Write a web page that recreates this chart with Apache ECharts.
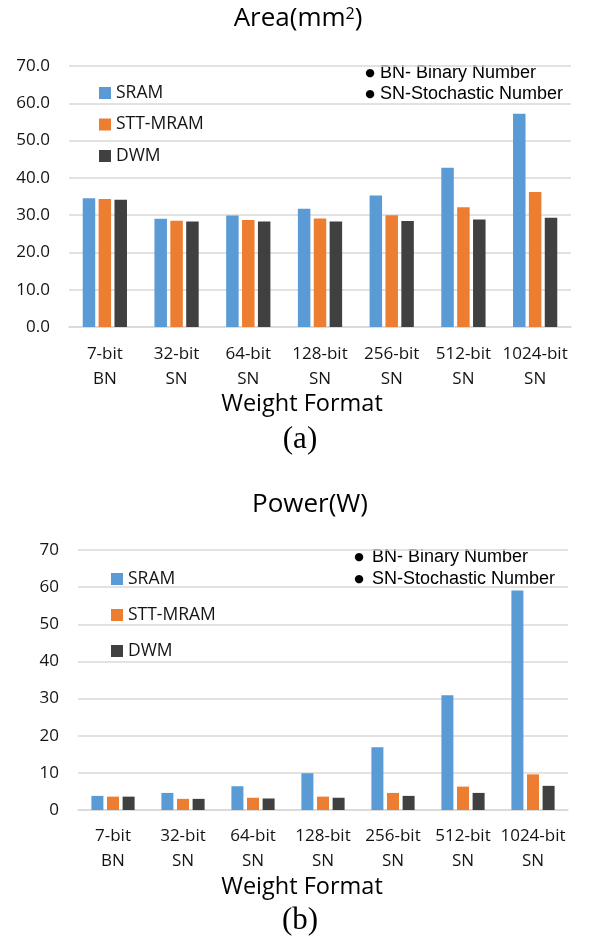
<!DOCTYPE html>
<html>
<head>
<meta charset="utf-8">
<script src="https://cdn.jsdelivr.net/npm/echarts@6/dist/echarts.min.js"></script>
<style>
  html, body { margin: 0; padding: 0; background: #fff; }
  #chart { width: 590px; height: 947px; }
</style>
</head>
<body>
<div id="chart"></div>
<script>
// categories shared by both panels
const categories = ['7-bit\nBN', '32-bit\nSN', '64-bit\nSN', '128-bit\nSN', '256-bit\nSN', '512-bit\nSN', '1024-bit\nSN']
const seriesNames = ['SRAM', 'STT-MRAM', 'DWM']

// (a) area, mm^2
const areaSram = [34.5, 29.0, 29.9, 31.7, 35.3, 42.7, 57.2]
const areaStt = [34.3, 28.5, 28.7, 29.1, 30.0, 32.1, 36.2]
const areaDwm = [34.1, 28.3, 28.3, 28.3, 28.4, 28.8, 29.3]

// (b) power, W
const powerSram = [3.8, 4.6, 6.4, 9.9, 16.9, 30.9, 59.1]
const powerStt = [3.6, 3.0, 3.3, 3.6, 4.6, 6.3, 9.6]
const powerDwm = [3.6, 3.0, 3.1, 3.3, 3.8, 4.6, 6.5]

const notes = ['BN- Binary Number', 'SN-Stochastic Number']

const colors = ['#5B9BD5', '#ED7D31', '#404040']
const textColor = '#141414'
const gridColor = '#D9D9D9'
const uiFont = 'Open Sans'

function makeBar (name, data, idx, color, width, gap) {
  return {
    type: 'bar',
    name: name,
    data: data,
    xAxisIndex: idx,
    yAxisIndex: idx,
    barWidth: width,
    barGap: gap,
    itemStyle: { color: color },
    emphasis: { disabled: true }
  }
}

function makeXAxis (idx, margin) {
  return {
    type: 'category',
    gridIndex: idx,
    data: categories,
    axisTick: { show: false },
    axisLine: { lineStyle: { color: gridColor, width: 1.5 } },
    axisLabel: {
      margin: margin,
      fontFamily: uiFont,
      fontSize: 17,
      lineHeight: 25,
      color: textColor,
      interval: 0
    }
  }
}

function makeYAxis (idx, digits) {
  return {
    type: 'value',
    gridIndex: idx,
    min: 0,
    max: 70,
    interval: 10,
    axisLine: { show: false },
    axisTick: { show: false },
    splitLine: { lineStyle: { color: gridColor, width: 1.5 } },
    axisLabel: {
      margin: 19,
      fontFamily: uiFont,
      fontSize: 17,
      color: textColor,
      formatter: function (v) { return v.toFixed(digits) }
    }
  }
}

function makeLegend (left, top, gap) {
  return {
    orient: 'vertical',
    left: left,
    top: top,
    itemGap: gap,
    itemWidth: 12,
    itemHeight: 12,
    icon: 'rect',
    selectedMode: false,
    data: seriesNames,
    textStyle: { fontFamily: uiFont, fontSize: 17.5, color: textColor }
  }
}

function centerText (text, x, y, font, rich) {
  return {
    type: 'text',
    x: x,
    y: y,
    style: {
      text: text,
      font: font,
      fill: '#000',
      align: 'center',
      verticalAlign: 'middle',
      rich: rich
    }
  }
}

function noteLines (bulletX, textX, ys) {
  let out = []
  for (let i = 0; i < notes.length; i++) {
    out.push({
      type: 'text', x: bulletX, y: ys[i],
      style: { text: '\u25CF', font: '11px "DejaVu Sans"', fill: '#000', align: 'center', verticalAlign: 'middle' }
    })
    out.push({
      type: 'text', x: textX, y: ys[i],
      style: { text: notes[i], font: '18px "Liberation Sans"', fill: '#000', align: 'left', verticalAlign: 'middle' }
    })
  }
  return out
}

const titleRich = {
  a: { fontFamily: uiFont, fontSize: 26, color: '#000' },
  s: { fontFamily: uiFont, fontSize: 16, color: '#000', verticalAlign: 'top', padding: [0, 0, 10, 0] }
}

const chart = echarts.init(document.getElementById('chart'), null, { renderer: 'canvas' })
chart.setOption({
  animation: false,
  color: colors,
  grid: [
    { left: 69, top: 66, width: 502, height: 261 },
    { left: 78, top: 550, width: 490, height: 260 }
  ],
  xAxis: [makeXAxis(0, 15), makeXAxis(1, 14)],
  yAxis: [makeYAxis(0, 1), makeYAxis(1, 0)],
  legend: [makeLegend(94, 79, 13.5), makeLegend(106, 565, 18)],
  series: [
    makeBar('SRAM', areaSram, 0, colors[0], 12.5, '27%'),
    makeBar('STT-MRAM', areaStt, 0, colors[1], 12.5, '27%'),
    makeBar('DWM', areaDwm, 0, colors[2], 12.5, '27%'),
    makeBar('SRAM', powerSram, 1, colors[0], 12, '30%'),
    makeBar('STT-MRAM', powerStt, 1, colors[1], 12, '30%'),
    makeBar('DWM', powerDwm, 1, colors[2], 12, '30%')
  ],
  graphic: [
    centerText('{a|Area(mm}{s|2}{a|)}', 298, 19, '26px "Open Sans"', titleRich),
    centerText('Weight Format', 302, 404, '23.5px "Open Sans"'),
    centerText('(a)', 300, 440, '31px "Liberation Serif"'),
    centerText('Power(W)', 310, 505, '26px "Open Sans"'),
    centerText('Weight Format', 302, 887, '23.5px "Open Sans"'),
    centerText('(b)', 300, 921, '31px "Liberation Serif"')
  ].concat(noteLines(370, 380, [73, 94])).concat(noteLines(359, 372, [557, 579]))
})
</script>
</body>
</html>
